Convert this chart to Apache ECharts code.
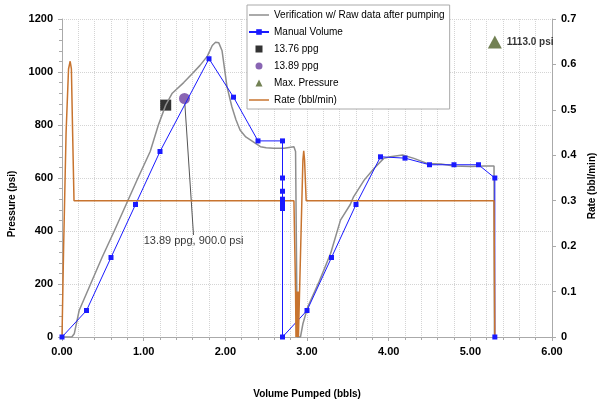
<!DOCTYPE html>
<html>
<head>
<meta charset="utf-8">
<script src="https://cdn.jsdelivr.net/npm/echarts@6/dist/echarts.min.js"></script>
<style>
  html, body { margin: 0; padding: 0; background: #fff; }
  #pump_chart { width: 600px; height: 400px; }
</style>
</head>
<body>
<div id="pump_chart"></div>
<script>
// raw pressure trace (verification w/ raw data after pumping)
const rawVolume = [0, 0.12, 0.15, 0.21, 0.35, 0.49, 0.64, 0.785, 0.93, 1.08, 1.18, 1.27, 1.35, 1.49, 1.6, 1.69, 1.78, 1.84, 1.88, 1.92, 1.96, 2.0, 2.02, 2.08, 2.13, 2.18, 2.25, 2.31, 2.43, 2.5, 2.59, 2.72, 2.84, 2.86, 2.88, 2.92, 2.95, 3.01, 3.15, 3.29, 3.41, 3.53, 3.57, 3.7, 3.82, 3.94, 4.02, 4.17, 4.31, 4.47, 4.64, 4.8, 5.01, 5.17, 5.29, 5.295];
const rawPressure = [0, 0, 12, 100, 200, 300, 400, 500, 600, 700, 800, 875, 920, 960, 995, 1025, 1060, 1100, 1112, 1110, 1080, 990, 945, 869, 820, 781, 755, 743, 718, 714, 712, 712, 718, 700, 0, 0, 50, 114, 210, 316, 441, 500, 529, 592, 636, 674, 680, 687, 674, 655, 653, 645, 643, 645, 645, 0];

// manual volume readings
const manualVolume = [0, 0.3, 0.6, 0.9, 1.2, 1.8, 2.1, 2.4, 2.7, 2.7, 2.7, 2.7, 2.7, 2.7, 2.7, 2.7, 3.0, 3.3, 3.6, 3.9, 4.2, 4.5, 4.8, 5.1, 5.3, 5.3];
const manualPressure = [0, 100, 300, 500, 700, 1050, 905, 740, 740, 600, 550, 520, 505, 495, 485, 0, 100, 300, 500, 680, 675, 650, 650, 650, 600, 0];

// pump rate (right axis)
const rateVolume = [0, 0.02, 0.05, 0.08, 0.1, 0.115, 0.13, 0.147, 2.84, 2.855, 2.86, 2.865, 2.87, 2.875, 2.88, 2.885, 2.89, 2.895, 2.9, 2.93, 2.95, 2.96, 2.97, 2.99, 3.01, 5.29, 5.3];
const rateValue = [0, 0.2, 0.45, 0.59, 0.607, 0.59, 0.45, 0.3, 0.3, 0.3, 0.1, 0, 0.1, 0, 0.1, 0, 0.1, 0, 0, 0.25, 0.39, 0.41, 0.39, 0.3, 0.3, 0.3, 0];

const density1376 = [[1.27, 875]];
const density1389 = [[1.5, 900]];
const maxPressure = [[5.3, 1113]];

const font = "Liberation Sans, Arial, sans-serif";
const zip = (xs, ys) => xs.map((x, i) => [x, ys[i]]);
const lineIcon = "path://M0,0L20,0L20,1.5L0,1.5Z";

const option = {
  animation: false,
  backgroundColor: "#fff",
  textStyle: { fontFamily: font },
  grid: { left: 62, right: 48, top: 19, bottom: 63, containLabel: false, outerBoundsMode: "none" },
  legend: {
    orient: "vertical",
    left: 247,
    top: 5,
    padding: [4, 5, 3, 1],
    backgroundColor: "#fff",
    borderColor: "#aaa",
    borderWidth: 1,
    itemWidth: 20,
    itemHeight: 7,
    itemGap: 5,
    textStyle: { fontSize: 10, color: "#000", lineHeight: 12, fontFamily: font },
    data: [
      { name: "Verification w/ Raw data after pumping", icon: lineIcon },
      "Manual Volume",
      { name: "13.76 ppg", icon: "path://M0,0L1,0L1,1L0,1Z" },
      { name: "13.89 ppg", icon: "circle" },
      { name: "Max. Pressure", icon: "path://M0.5,0L1,1L0,1Z" },
      { name: "Rate (bbl/min)", icon: lineIcon }
    ]
  },
  xAxis: {
    type: "value",
    min: 0,
    max: 6,
    interval: 1,
    name: "Volume Pumped (bbls)",
    nameLocation: "middle",
    nameGap: 52,
    nameTextStyle: { fontSize: 10, fontWeight: "bold", color: "#000" },
    axisLine: { show: true, lineStyle: { color: "#aaa" } },
    axisTick: { show: true, length: 4, lineStyle: { color: "#aaa" } },
    minorTick: { show: true, splitNumber: 5, length: 3, lineStyle: { color: "#aaa" } },
    axisLabel: { fontSize: 11, fontWeight: "bold", color: "#000", margin: 9, formatter: v => v.toFixed(2) },
    splitLine: { show: true, lineStyle: { color: "#d4d4d4", type: "dotted" } },
    minorSplitLine: { show: true, lineStyle: { color: "#d4d4d4", type: "dotted" } }
  },
  yAxis: [
    {
      type: "value",
      min: 0,
      max: 1200,
      interval: 200,
      name: "Pressure (psi)",
      nameLocation: "middle",
      nameGap: 42,
      nameTextStyle: { fontSize: 10, fontWeight: "bold", color: "#000", padding: [0, 52, 0, 0] },
      axisLine: { show: true, lineStyle: { color: "#aaa" } },
      axisTick: { show: true, length: 4, lineStyle: { color: "#aaa" } },
      minorTick: { show: true, splitNumber: 5, length: 3, lineStyle: { color: "#aaa" } },
      axisLabel: { fontSize: 11, fontWeight: "bold", color: "#000", margin: 9, formatter: v => String(v) },
      splitLine: { show: true, lineStyle: { color: "#d4d4d4", type: "dotted" } }
    },
    {
      type: "value",
      min: 0,
      max: 0.7,
      interval: 0.1,
      position: "right",
      name: "Rate (bbl/min)",
      nameLocation: "middle",
      nameGap: 27,
      nameTextStyle: { fontSize: 10, fontWeight: "bold", color: "#000", padding: [0, 16, 0, 0] },
      axisLine: { show: true, lineStyle: { color: "#aaa" } },
      axisTick: { show: true, length: 4, lineStyle: { color: "#aaa" } },
      axisLabel: { fontSize: 11, fontWeight: "bold", color: "#000", margin: 9 },
      splitLine: { show: false }
    }
  ],
  series: [
    {
      name: "Verification w/ Raw data after pumping",
      type: "line",
      data: zip(rawVolume, rawPressure),
      symbol: "none",
      color: "#8e8e8e",
      lineStyle: { width: 1.5 }
    },
    {
      name: "Manual Volume",
      type: "line",
      data: zip(manualVolume, manualPressure),
      symbol: "rect",
      symbolSize: 5,
      color: "#1a1aff",
      lineStyle: { width: 1 }
    },
    {
      name: "13.76 ppg",
      type: "scatter",
      data: density1376,
      symbol: "rect",
      symbolSize: 11,
      color: "#000"
    },
    {
      name: "13.89 ppg",
      type: "scatter",
      data: density1389,
      symbol: "circle",
      symbolSize: 11,
      color: "#6b3fa0",
      label: {
        show: true,
        position: "bottom",
        formatter: "13.89 ppg, 900.0 psi",
        fontSize: 11,
        color: "#000"
      },
      labelLayout: { dx: 9, dy: 126 },
      labelLine: { show: true, lineStyle: { color: "#555", width: 1 } }
    },
    {
      name: "Max. Pressure",
      type: "scatter",
      data: maxPressure,
      symbol: "triangle",
      symbolSize: [14, 13],
      color: "#4f6228",
      label: {
        show: true,
        position: "right",
        distance: 5,
        formatter: "1113.0 psi",
        fontSize: 10,
        fontWeight: "bold",
        color: "#000"
      }
    },
    {
      name: "Rate (bbl/min)",
      type: "line",
      yAxisIndex: 1,
      data: zip(rateVolume, rateValue),
      symbol: "none",
      color: "#c8742f",
      lineStyle: { width: 1.5 }
    }
  ]
};

const pumpChart = echarts.init(document.getElementById("pump_chart"));
pumpChart.setOption(option);
window.addEventListener("resize", function() {
  pumpChart.resize();
});
</script>
</body>
</html>
